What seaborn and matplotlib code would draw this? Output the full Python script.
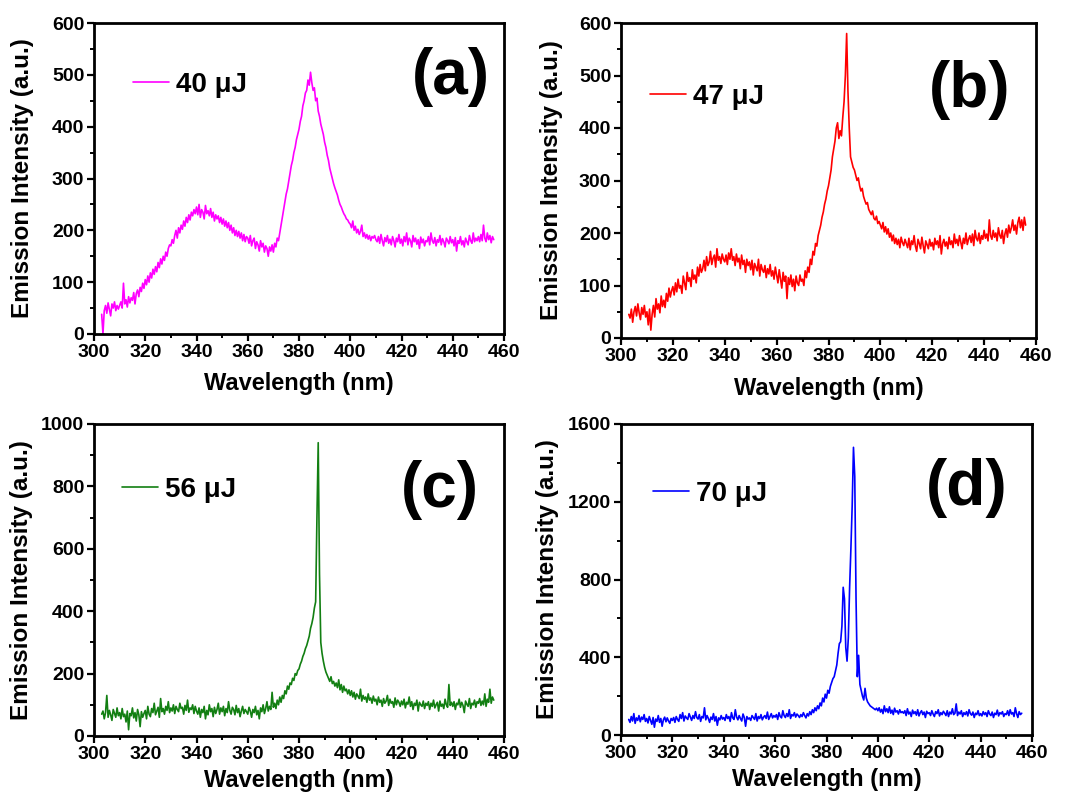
import numpy as np
import matplotlib
matplotlib.use("Agg")
import matplotlib.pyplot as plt
from matplotlib.ticker import MultipleLocator
import seaborn as sns

# ---------------- data (0.5 nm sampling, 303-456 nm) ----------------
wl_start, wl_stop, wl_step = 303.0, 456.0, 0.5

spec_a = [
    38, 0, 45, 55, 40, 60, 48, 35, 58, 50, 62, 45, 55, 48,
    55, 62, 50, 98, 58, 66, 52, 72, 60, 70, 65, 80, 58, 78, 85, 72, 90, 82, 98, 88,
    105, 95, 112, 100, 118, 108, 125, 115, 130, 120, 138, 128, 145, 135, 150, 142, 158, 150, 165, 172,
    170, 182, 175, 190, 200, 185, 205, 195, 210, 202, 218, 208, 225, 215, 230, 220, 235, 228, 240, 232,
    245, 230, 250, 225, 240, 235, 222, 248, 232, 238, 228, 242, 225, 235, 218, 230, 222, 228, 215, 225,
    212, 222, 208, 218, 205, 215, 200, 210, 195, 205, 190, 200, 188, 198, 185, 195, 180, 192, 178, 188,
    185, 175, 190, 170, 180, 185, 165, 178, 172, 160, 180, 168, 175, 158, 170, 165, 150, 168, 160, 172,
    158, 175, 168, 185, 180, 195, 210, 225, 240, 255, 270, 280, 295, 310, 325, 335, 350, 360, 375, 385,
    395, 410, 420, 440, 450, 465, 470, 490, 480, 505, 485, 470, 475, 450, 455, 430, 420, 405, 395, 385,
    370, 360, 345, 335, 320, 310, 300, 290, 282, 275, 268, 258, 250, 245, 238, 232, 228, 222, 220, 215,
    212, 205, 218, 200, 208, 195, 202, 192, 198, 210, 188, 195, 185, 192, 183, 190, 180, 188, 185, 190,
    182, 178, 188, 175, 192, 180, 170, 186, 178, 190, 175, 183, 172, 188, 180, 168, 185, 178, 192, 175,
    183, 170, 188, 178, 195, 172, 185, 180, 168, 190, 178, 185, 173, 182, 165, 187, 176, 183, 170, 180,
    178, 188, 172, 195, 180, 175, 186, 170, 182, 177, 190, 172, 184, 178, 168, 185, 180, 174, 188, 176,
    182, 170, 186, 160, 180, 175, 188, 172, 180, 168, 185, 178, 172, 190, 180, 175, 195, 178, 185, 180,
    188, 178, 192, 180, 210, 185, 178, 195, 182, 190, 176, 188, 182,
]

spec_b = [
    45, 38, 55, 30, 50, 60, 42, 65, 48, 35, 58, 45, 62, 40,
    50, 25, 55, 15, 45, 62, 40, 75, 55, 65, 48, 80, 60, 72, 58, 85, 70, 95, 78, 90,
    98, 82, 105, 88, 112, 95, 100, 85, 118, 105, 92, 125, 108, 115, 98, 130, 112, 120, 105, 135,
    118, 140, 125, 132, 148, 128, 155, 138, 145, 165, 140, 152, 158, 135, 170, 148, 155, 142, 160, 150,
    145, 158, 140, 162, 150, 170, 148, 155, 138, 160, 145, 152, 132, 158, 140, 148, 125, 150, 138, 145,
    130, 148, 120, 142, 135, 128, 150, 118, 140, 130, 125, 138, 115, 132, 122, 140, 118, 128, 112, 135,
    120, 105, 130, 112, 95, 125, 108, 118, 75, 115, 102, 120, 98, 112, 90, 118, 105, 100, 120, 108,
    112, 100, 128, 115, 135, 125, 150, 140, 165, 158, 180, 175, 195, 205, 215, 230, 240, 255, 265, 280,
    290, 305, 320, 345, 360, 375, 400, 410, 380, 395, 385, 420, 450, 500, 580, 470, 400, 345, 335, 325,
    320, 310, 300, 305, 290, 280, 285, 270, 262, 255, 258, 245, 240, 235, 242, 228, 225, 232, 218, 222,
    215, 208, 220, 202, 212, 198, 208, 192, 200, 185, 196, 180, 190, 178, 188, 172, 192, 182, 176, 188,
    180, 172, 190, 168, 185, 178, 195, 175, 165, 188, 180, 170, 192, 176, 162, 185, 178, 170, 188, 175,
    182, 168, 190, 178, 185, 172, 195, 160, 180, 188, 175, 183, 170, 192, 178, 185, 172, 198, 180, 188,
    176, 195, 183, 170, 190, 180, 200, 178, 188, 195, 182, 198, 176, 205, 190, 185, 200, 180, 195, 188,
    205, 190, 198, 185, 225, 195, 188, 205, 192, 200, 185, 210, 196, 190, 205, 180, 198, 208, 192, 215,
    200, 210, 225, 205, 215, 198, 220, 230, 210, 225, 205, 230, 215,
]

spec_c = [
    70, 80, 55, 75, 130, 60, 82, 68, 50, 85, 72, 60, 90, 65,
    75, 55, 88, 62, 70, 45, 80, 20, 72, 65, 90, 58, 75, 48, 85, 68, 30, 78, 60, 72,
    82, 55, 95, 70, 62, 88, 75, 105, 68, 80, 92, 60, 120, 78, 88, 70, 95, 82, 110, 75,
    90, 80, 100, 72, 95, 85, 78, 105, 88, 92, 70, 98, 82, 115, 76, 90, 85, 100, 72, 95,
    80, 70, 90, 60, 85, 75, 95, 55, 82, 68, 100, 78, 88, 62, 92, 72, 85, 105, 70, 90,
    78, 95, 65, 88, 75, 110, 82, 70, 92, 85, 68, 98, 75, 88, 62, 80, 95, 72, 85, 78,
    70, 92, 80, 60, 85, 75, 95, 68, 82, 55, 90, 78, 100, 72, 88, 110, 80, 95, 85, 140,
    92, 105, 88, 115, 100, 125, 108, 130, 120, 145, 135, 160, 150, 170, 165, 185, 178, 200, 195, 210,
    215, 230, 240, 255, 265, 280, 290, 305, 320, 345, 360, 380, 410, 430, 700, 940, 520, 300, 265, 240,
    220, 205, 195, 185, 175, 190, 168, 175, 160, 170, 155, 180, 148, 165, 140, 160, 145, 150, 135, 148,
    130, 145, 125, 140, 118, 135, 128, 120, 150, 112, 130, 118, 125, 108, 135, 115, 122, 105, 128, 112,
    118, 100, 125, 108, 115, 95, 120, 105, 112, 130, 98, 118, 105, 110, 92, 122, 100, 115, 108, 95,
    112, 100, 118, 90, 108, 102, 125, 95, 110, 85, 105, 98, 115, 80, 108, 100, 95, 112, 88, 105,
    98, 110, 85, 105, 95, 115, 90, 100, 108, 80, 112, 95, 102, 88, 118, 100, 92, 165, 98, 108,
    95, 110, 85, 105, 100, 118, 92, 108, 98, 75, 112, 102, 95, 120, 88, 105, 100, 115, 92, 110,
    105, 120, 98, 112, 100, 135, 95, 118, 108, 150, 105, 125, 115,
]

spec_d = [
    80, 65, 95, 72, 110, 60, 88, 75, 100, 68, 92, 80, 105, 70,
    85, 62, 95, 75, 55, 90, 40, 82, 70, 100, 65, 85, 45, 78, 92, 68, 88, 72, 60, 85,
    75, 90, 65, 95, 80, 70, 105, 85, 115, 72, 98, 88, 80, 110, 92, 75, 100, 85, 120, 90,
    82, 105, 70, 95, 88, 140, 78, 100, 85, 65, 92, 80, 110, 72, 95, 50, 88, 78, 100, 82,
    90, 75, 105, 85, 95, 70, 115, 88, 80, 130, 92, 78, 100, 85, 72, 108, 90, 45, 95, 82,
    88, 75, 100, 90, 80, 110, 72, 95, 85, 105, 78, 92, 100, 85, 118, 80, 95, 110, 88, 100,
    92, 105, 80, 115, 95, 88, 125, 100, 90, 110, 95, 130, 85, 105, 98, 115, 92, 108, 100, 90,
    105, 95, 115, 100, 88, 110, 98, 120, 105, 130, 115, 140, 125, 150, 135, 165, 150, 190, 170, 210,
    190, 230, 215, 250, 270, 290, 300, 330, 360, 420, 470, 480, 560, 760, 700, 450, 380, 500, 760, 960,
    1180, 1480, 1330, 700, 300, 410, 260, 230, 200, 180, 240, 190, 170, 160, 150, 145, 140, 135, 130, 138,
    125, 140, 118, 132, 110, 150, 120, 135, 115, 145, 112, 128, 105, 138, 118, 125, 108, 130, 115, 120,
    112, 125, 100, 135, 108, 118, 95, 128, 110, 120, 102, 130, 98, 115, 125, 105, 118, 90, 122, 110,
    115, 100, 125, 108, 95, 120, 110, 130, 98, 115, 105, 122, 112, 100, 125, 95, 118, 108, 135, 105,
    112, 160, 100, 118, 108, 125, 95, 115, 105, 120, 98, 130, 110, 102, 118, 90, 112, 105, 125, 100,
    110, 98, 120, 105, 115, 95, 125, 108, 100, 118, 90, 112, 105, 128, 98, 115, 108, 120, 95, 110,
    105, 125, 100, 130, 108, 115, 95, 140, 110, 90, 120, 105, 112,
]

labels = ["40 \u03bcJ", "47 \u03bcJ", "56 \u03bcJ", "70 \u03bcJ"]
panel_tags = ["(a)", "(b)", "(c)", "(d)"]
colors = ["#FF00FF", "#FF0000", "#127F12", "#0000FF"]
ylims = [600, 600, 1000, 1600]
ymajor = [100, 100, 200, 400]
yminor = [50, 50, 100, 200]

# ---------------- style ----------------
sns.set_style("ticks")
plt.rcParams["font.family"] = ["Liberation Sans", "DejaVu Sans"]
plt.rcParams["font.weight"] = "bold"
plt.rcParams["axes.labelweight"] = "bold"
for key in ["text.color", "axes.labelcolor", "xtick.color", "ytick.color",
            "axes.edgecolor", "xtick.labelcolor", "ytick.labelcolor"]:
    plt.rcParams[key] = "black"

fig = plt.figure(figsize=(10.66, 7.96), dpi=100)
W, H = 1066.0, 796.0
# axes boxes in pixels: left, right, top, bottom
boxes = [(94, 504, 23, 334), (621, 1036, 23, 338), (94, 504, 424, 736), (621, 1032, 424, 735)]
leg_pos = [(0.095, 0.80), (0.07, 0.765), (0.068, 0.79), (0.078, 0.775)]
tag_pos = [(0.87, 0.826), (0.84, 0.787), (0.844, 0.79), (0.84, 0.795)]
ylab_x = [-0.147, -0.14, -0.149, -0.151]
xlab_y = [-0.122, -0.124, -0.106, -0.106]

series = [spec_a, spec_b, spec_c, spec_d]
for i, spec in enumerate(series):
    l, r, t, b = boxes[i]
    ax = fig.add_axes([l / W, 1 - b / H, (r - l) / W, (b - t) / H])
    wl = np.arange(wl_start, wl_stop + wl_step / 2, wl_step)
    assert len(wl) == len(spec), (i, len(spec))
    sns.lineplot(x=wl, y=np.array(spec, dtype=float), ax=ax, color=colors[i],
                 lw=1.2, label=labels[i], estimator=None, sort=False)
    ax.set_xlim(300, 460)
    ax.set_ylim(0, ylims[i])
    ax.xaxis.set_major_locator(MultipleLocator(20))
    ax.xaxis.set_minor_locator(MultipleLocator(10))
    ax.yaxis.set_major_locator(MultipleLocator(ymajor[i]))
    ax.yaxis.set_minor_locator(MultipleLocator(yminor[i]))
    ax.tick_params(which="major", direction="out", length=5, width=1.6,
                   labelsize=14, pad=2, top=False, right=False, colors="black")
    ax.tick_params(which="minor", direction="out", length=3, width=1.4,
                   top=False, right=False, colors="black")
    for lab in ax.get_xticklabels() + ax.get_yticklabels():
        lab.set_fontweight("bold")
    for sp in ax.spines.values():
        sp.set_linewidth(2.0)
        sp.set_color("black")
        sp.set_visible(True)
    ax.set_xlabel("Wavelength (nm)", fontsize=17, fontweight="bold", color="black")
    ax.set_ylabel("Emission Intensity (a.u.)", fontsize=17.5, fontweight="bold", color="black")
    ax.xaxis.set_label_coords(0.5, xlab_y[i])
    ax.yaxis.set_label_coords(ylab_x[i], 0.5)
    leg = ax.legend(loc="center left", bbox_to_anchor=leg_pos[i], frameon=False,
                    handlelength=1.3, handletextpad=0.25, borderpad=0, borderaxespad=0,
                    prop={"size": 20, "weight": "bold"}, labelcolor="black")
    ax.text(tag_pos[i][0], tag_pos[i][1], panel_tags[i], transform=ax.transAxes,
            ha="center", va="center", fontsize=46, fontweight="bold", color="black")

fig.savefig("out.png", dpi=100)
